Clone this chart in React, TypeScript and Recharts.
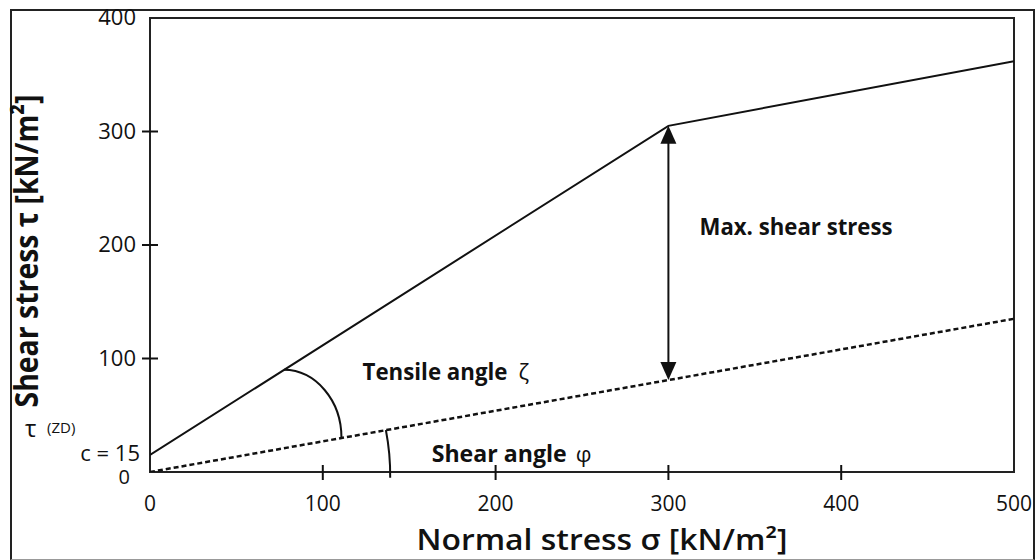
import React from 'react';
import {
  ComposedChart,
  Line,
  XAxis,
  YAxis,
  ReferenceArea,
  ReferenceLine,
  ReferenceDot,
  Label,
} from 'recharts';

// Mohr-Coulomb style envelope
const envelope = [
  { x: 0, y: 15 },
  { x: 300, y: 305 },
  { x: 500, y: 362 },
];
const frictionLine = [
  { x: 0, y: 0 },
  { x: 500, y: 135 },
];

const xTicks = [0, 100, 200, 300, 400, 500];
const yTicks = [0, 15, 35, 100, 200, 300, 400];
const yTickLabels = ['0', 'c = 15', 'τ', '100', '200', '300', '400'];

// annotations, in data units
const maxShearArrow = [
  { x: 300, y: 305 },
  { x: 300, y: 81 },
];
const tensileArc = [
  { x: 77.5, y: 90 },
  { x: 110.8, y: 30 },
];
const shearArc = [
  { x: 136.5, y: 37 },
  { x: 139, y: -5 },
];
const notes = [
  { x: 318, y: 209, text: 'Max. shear stress', greek: '' },
  { x: 123, y: 81, text: 'Tensile angle', greek: 'ζ' },
  { x: 163, y: 9, text: 'Shear angle', greek: 'φ' },
];

const FONT = '"Open Sans", sans-serif';
const INK = '#111';
const noteWidths = [193, 145, 135];
const greekOffsets = [0, 156, 144];

function YTick(props: any) {
  const { x, y, payload } = props;
  const v = payload.value;
  const label = yTickLabels[yTicks.indexOf(v)];
  if (v === 35) {
    return (
      <g fill={INK} fontFamily={FONT}>
        <text x={x - 111} y={y + 5} fontSize={24}>{label}</text>
        <text x={x - 89} y={y + 1} fontSize={15}>(ZD)</text>
      </g>
    );
  }
  const shift = v === 0 ? -6 : v === 15 ? 4 : 0;
  const size = v === 15 ? 22 : v === 0 ? 20 : 22;
  const cross = v > 15 && v < 400;
  return (
    <g>
      {cross && <line x1={x + 6} x2={x + 22} y1={y} y2={y} stroke={INK} strokeWidth={2} />}
      <text x={x + shift} y={y} dy={v === 15 ? 6 : v === 0 ? 12 : 7} textAnchor="end" fontSize={size} fontFamily={FONT} fill={INK}>
        {label}
      </text>
    </g>
  );
}

function XTick(props: any) {
  const { x, y, payload } = props;
  const v = payload.value;
  const cross = v > 0 && v < 500;
  return (
    <g>
      {cross && <line x1={x} x2={x} y1={y - 31} y2={y - 16} stroke={INK} strokeWidth={2} />}
      <text x={x} y={y} dy={15} textAnchor="middle" fontSize={21} fontFamily={FONT} fill={INK}>
        {v}
      </text>
    </g>
  );
}

function XTitle(props: any) {
  const { viewBox } = props;
  return (
    <text
      x={viewBox.x + viewBox.width / 2 + 20}
      y={viewBox.y + 78}
      textAnchor="middle"
      fontSize={28}
      fontWeight={600}
      fontFamily={FONT}
      fill={INK}
      textLength={371}
      lengthAdjust="spacingAndGlyphs"
    >
      Normal stress σ [kN/m²]
    </text>
  );
}

function YTitle(props: any) {
  const { viewBox } = props;
  const cx = viewBox.x - 32;
  const cy = viewBox.y + viewBox.height / 2 + 6;
  return (
    <text
      x={cx}
      y={cy}
      transform={`rotate(-90, ${cx}, ${cy})`}
      textAnchor="middle"
      fontSize={33}
      fontWeight={700}
      fontFamily={FONT}
      fill={INK}
      textLength={313}
      lengthAdjust="spacingAndGlyphs"
    >
      Shear stress τ [kN/m²]
    </text>
  );
}

function ArrowShape(props: any) {
  const { x1, y1, x2, y2 } = props;
  return (
    <g fill={INK} stroke={INK}>
      <line x1={x1} x2={x2} y1={y1 + 16} y2={y2 - 16} strokeWidth={2} />
      <polygon points={`${x1},${y1} ${x1 - 8},${y1 + 18} ${x1 + 8},${y1 + 18}`} strokeWidth={0} />
      <polygon points={`${x2},${y2} ${x2 - 8},${y2 - 18} ${x2 + 8},${y2 - 18}`} strokeWidth={0} />
    </g>
  );
}

function arcShape(rx: number, ry: number) {
  return (props: any) => {
    const { x1, y1, x2, y2 } = props;
    return (
      <path d={`M ${x1} ${y1} A ${rx} ${ry} 0 0 1 ${x2} ${y2}`} fill="none" stroke={INK} strokeWidth={2} />
    );
  };
}

function noteShape(i: number) {
  return (props: any) => {
    const { cx, cy } = props;
    const n = notes[i];
    return (
      <g fill={INK} fontFamily={FONT}>
        <text x={cx} y={cy} fontSize={23} fontWeight={700} textLength={noteWidths[i]} lengthAdjust="spacingAndGlyphs">
          {n.text}
        </text>
        {n.greek && (
          <text x={cx + greekOffsets[i]} y={cy} fontSize={22} fontWeight={400}>
            {n.greek}
          </text>
        )}
      </g>
    );
  };
}

export default function App() {
  return (
    <div style={{ position: 'relative', width: 1036, height: 560, background: '#fff', overflow: 'hidden' }}>
      <style>{'html, body { margin: 0; padding: 0; }'}</style>
      <div
        style={{
          position: 'absolute',
          left: 10,
          top: 9,
          width: 1025,
          height: 551,
          boxSizing: 'border-box',
          border: '2px solid #222',
          borderBottom: '1px solid #999',
        }}
      />
      <ComposedChart
        width={1036}
        height={560}
        margin={{ top: 18, right: 22, bottom: 58, left: 70 }}
        style={{ position: 'absolute', left: 0, top: 0 }}
      >
        <XAxis
          dataKey="x"
          type="number"
          domain={[0, 500]}
          ticks={xTicks}
          interval={0}
          height={30}
          tickSize={0}
          tickMargin={24}
          axisLine={false}
          tickLine={false}
          tick={<XTick />}
          allowDataOverflow
        >
          <Label content={<XTitle />} />
        </XAxis>
        <YAxis
          type="number"
          domain={[0, 400]}
          ticks={yTicks}
          interval={0}
          width={80}
          tickSize={0}
          tickMargin={14}
          axisLine={false}
          tickLine={false}
          tick={<YTick />}
          allowDataOverflow
        >
          <Label content={<YTitle />} />
        </YAxis>
        <ReferenceArea x1={0} x2={500} y1={0} y2={400} fill="none" stroke="#222" strokeWidth={2} fillOpacity={0} />
        <Line
          data={frictionLine}
          dataKey="y"
          stroke={INK}
          strokeWidth={2.5}
          strokeDasharray="5 3"
          dot={false}
          activeDot={false}
          isAnimationActive={false}
        />
        <Line
          data={envelope}
          dataKey="y"
          stroke={INK}
          strokeWidth={2}
          dot={false}
          activeDot={false}
          isAnimationActive={false}
        />
        <ReferenceLine segment={maxShearArrow} shape={ArrowShape} ifOverflow="visible" />
        <ReferenceLine segment={tensileArc} shape={arcShape(58, 68)} ifOverflow="visible" />
        <ReferenceLine segment={shearArc} shape={arcShape(240, 240)} ifOverflow="visible" />
        {notes.map((n, i) => (
          <ReferenceDot key={n.text} x={n.x} y={n.y} r={0} shape={noteShape(i)} ifOverflow="visible" />
        ))}
      </ComposedChart>
    </div>
  );
}
